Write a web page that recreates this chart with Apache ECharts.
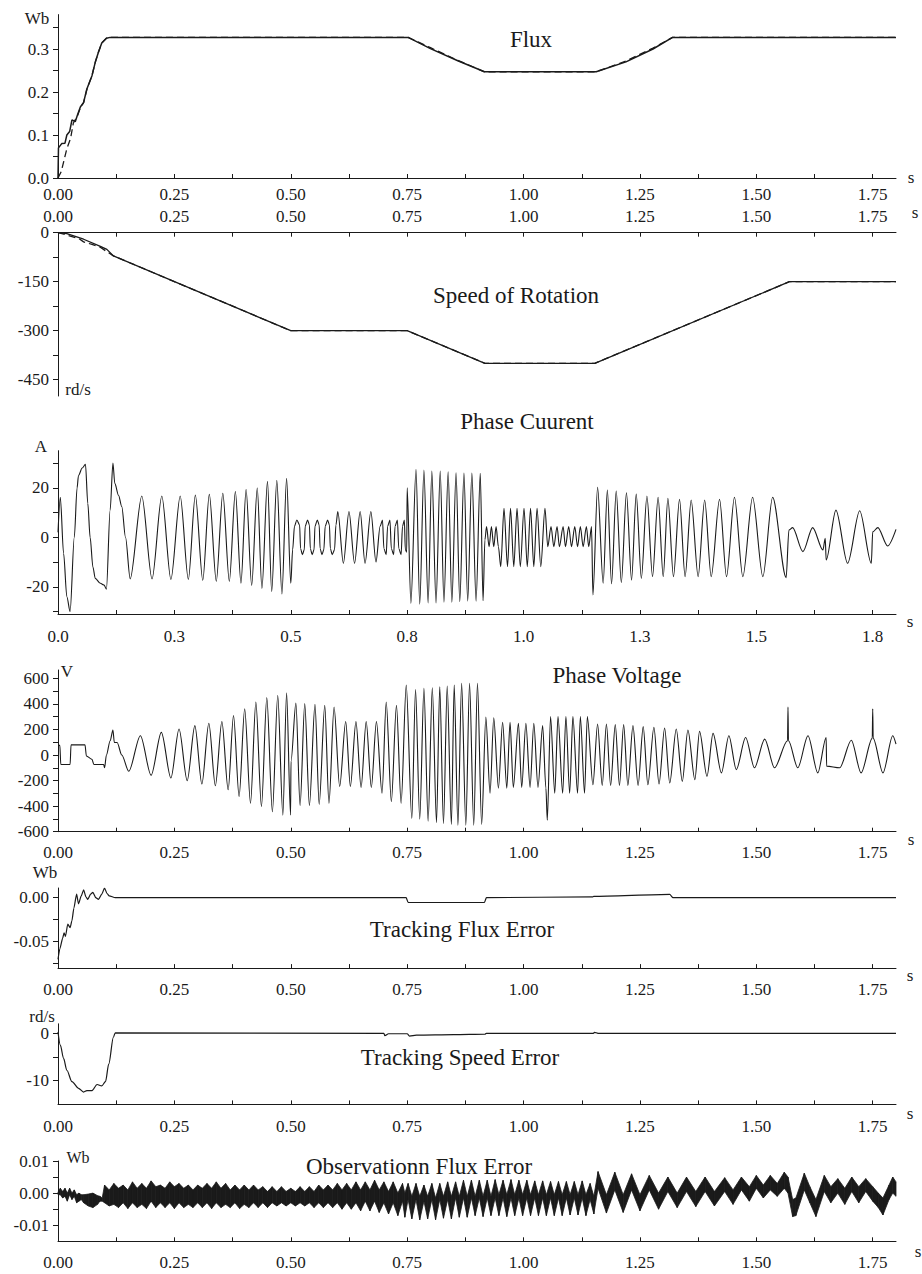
<!DOCTYPE html>
<html>
<head>
<meta charset="utf-8">
<title>Flux / speed / current / voltage / errors</title>
<script src="https://cdn.jsdelivr.net/npm/echarts@6.0.0/dist/echarts.min.js"></script>
<style>
  html, body { margin: 0; background: #fff; }
  #chart { width: 922px; height: 1274px; }
</style>
</head>
<body>
<div id="chart"></div>
<script>
// time axis (s), shared by every panel
const xTicks = [0, 0.125, 0.25, 0.375, 0.5, 0.625, 0.75, 0.875, 1, 1.125, 1.25, 1.375, 1.5, 1.625, 1.75];
const xLabels = [0, 0.25, 0.5, 0.75, 1, 1.25, 1.5, 1.75];

// flux (Wb): estimated (solid) and reference (dashed)
const fluxEst = [[0,0],[0.001,0.07],[0.008,0.08],[0.015,0.081],[0.019,0.1],[0.025,0.108],[0.03,0.135],[0.037,0.131],
  [0.042,0.147],[0.048,0.165],[0.055,0.176],[0.062,0.207],[0.073,0.238],[0.08,0.269],[0.087,0.293],[0.094,0.314],
  [0.104,0.325],[0.112,0.327],[0.752,0.327],[0.8,0.301],[0.86,0.272],[0.916,0.247],[1.156,0.247],[1.22,0.27],
  [1.278,0.3],[1.32,0.327],[1.8,0.327]];
const fluxRef = [[0,0],[0.007,0.015],[0.019,0.068],[0.027,0.092],[0.033,0.128],[0.042,0.145],[0.048,0.163],
  [0.055,0.175],[0.062,0.206],[0.073,0.238],[0.08,0.269],[0.087,0.293],[0.094,0.314],[0.104,0.325],[0.112,0.327],
  [0.752,0.327],[0.8,0.303],[0.86,0.273],[0.916,0.247],[1.156,0.247],[1.22,0.272],[1.278,0.302],[1.32,0.327],[1.8,0.327]];

// speed of rotation (rd/s)
const speedEst = [[0,0],[0.019,-3],[0.055,-20],[0.091,-42],[0.105,-51],[0.119,-71],[0.5,-300],[0.75,-300],
  [0.917,-400],[1.153,-400],[1.571,-150],[1.8,-150]];
const speedRef = [[0,0],[0.016,-6],[0.045,-18],[0.055,-28],[0.073,-36],[0.09,-44],[0.119,-71],[0.5,-300],[0.75,-300],
  [0.917,-400],[1.153,-400],[1.571,-150],[1.8,-150]];

// phase current (A), extremes
const currentPts = [
  [0,2],[0.005,16.2],[0.012,-6.5],[0.019,-24],[0.026,-30],[0.035,0],[0.041,20],[0.044,25],[0.052,28],[0.059,29.5],
  [0.064,13.7],[0.069,0],[0.075,-12],[0.08,-16.6],[0.091,-18.6],[0.099,-19.3],[0.104,-21],[0.112,11],[0.118,30],
  [0.122,21.8],[0.13,17],[0.137,12.4],[0.145,0],[0.155,-16.8],
  [0.18,16.7],[0.202,-16.8],[0.223,16.7],[0.2425,-17],[0.2625,16.7],[0.28,-17],[0.295,17.1],[0.311,-17.4],
  [0.325,17.4],[0.34,-17.8],[0.354,17.8],[0.368,-17.8],[0.381,18.5],[0.393,-18.6],[0.404,19.3],[0.416,-19.5],
  [0.428,19.9],[0.438,-20.7],[0.45,22.6],[0.459,-22],[0.47,23],[0.481,-22.9],[0.491,23.8],[0.5,-18.6],[0.504,-5],
  [0.508,4.5],[0.513,7],[0.519,5],[0.521,-4.5],[0.525,-7],[0.529,-5],[0.531,4.5],[0.536,7],[0.54,5],[0.542,-4.5],
  [0.546,-7],[0.55,-5],[0.552,4.5],[0.557,7],[0.561,5],[0.563,-4.5],[0.567,-7],[0.571,-5],[0.574,4.5],[0.579,7],
  [0.583,5],[0.585,-4.5],[0.589,-7],[0.594,-5],[0.597,5],
  [0.601,10.4],[0.613,-10.5],[0.625,10.4],[0.637,-10.5],[0.649,10.4],[0.6595,-10.5],[0.672,10.4],[0.683,-10],
  [0.692,4.5],[0.697,7],[0.7,-4.5],[0.705,-7],[0.708,4.5],[0.713,7],[0.716,-4.5],[0.721,-7],[0.724,4.5],[0.729,7],
  [0.732,-4.5],[0.737,-7],[0.74,4.5],[0.744,7],[0.746,-5],[0.749,-6],
  [0.75,20],[0.758,-26.7],[0.769,27.5],[0.777,-27],[0.786,27.2],[0.795,-26.5],[0.803,26.8],[0.812,-26.5],
  [0.821,26.8],[0.829,-26.2],[0.838,26.5],[0.846,-26.2],[0.855,26.1],[0.863,-26],[0.872,26],[0.88,-25.8],
  [0.889,26],[0.898,-25.8],[0.907,25.9],[0.913,-25.6],
  [0.917,-1],[0.9205,4.3],[0.926,-3.8],[0.931,4.3],[0.936,-3.8],[0.941,4.3],[0.946,-3.8],
  [0.951,-11.9],[0.958,11.7],[0.9655,-11.9],[0.972,11.7],[0.979,-11.9],[0.986,11.7],[0.993,-11.9],[1.001,11.7],
  [1.008,-11.9],[1.015,11.7],[1.022,-11.9],[1.029,11.7],[1.037,-11.9],[1.046,11.7],
  [1.052,-3.8],[1.059,4.3],[1.065,-3.8],[1.072,4.3],[1.077,-3.8],[1.085,4.3],[1.09,-3.8],[1.097,4.3],[1.103,-3.8],
  [1.11,4.3],[1.116,-3.8],[1.122,4.3],[1.128,-3.8],[1.135,4.3],[1.14,-3.8],[1.146,4.3],[1.149,-23.3],
  [1.159,20.2],[1.171,-18.6],[1.18,19.1],[1.189,-18.8],[1.199,18.7],[1.21,-18.3],[1.221,18],[1.232,-17.3],
  [1.242,17.5],[1.253,-16.6],[1.265,16.7],[1.277,-15.9],[1.289,16.2],[1.3,-15.9],[1.31,15.8],[1.322,-15.9],
  [1.335,15.4],[1.347,-15.9],[1.36,15.1],[1.375,-15.9],[1.389,15.1],[1.403,-15.9],[1.421,15.4],[1.436,-15.9],
  [1.453,16.2],[1.471,-15.9],[1.492,16.2],[1.514,-15.9],[1.535,16.2],[1.564,-16.3],
  [1.57,2.9],[1.578,3.9],[1.6,-5.8],[1.621,3.9],[1.643,-5.1],[1.648,-0.4],[1.65,-9.2],[1.671,11],[1.696,-10.5],
  [1.722,10.7],[1.747,-10.5],[1.75,2.2],[1.761,3.9],[1.782,-3.5],[1.8,3.2]
];

// phase voltage (V)
const voltagePts = [
  [0,75],[0.004,75],[0.006,-74],[0.026,-74],[0.028,79],[0.058,79],[0.061,-8],[0.073,-34],[0.077,-74],[0.098,-74],
  [0.1,-100],[0.104,0],[0.112,111],[0.118,196],[0.121,98],[0.127,98],[0.137,0],[0.152,-127],
  [0.177,151],[0.2,-159],[0.222,177],[0.2425,-180],[0.26,203],[0.2775,-201],[0.294,230],[0.309,-227],[0.324,248],
  [0.338,-241],[0.352,262],[0.3655,-272],[0.377,309],[0.389,-325],[0.401,362],[0.4135,-378],[0.425,415],
  [0.437,-404],[0.4485,449],[0.4605,-444],[0.472,468],[0.483,-470],[0.491,486],[0.4995,-470],[0.5005,-48],
  [0.511,407],[0.52,-396],[0.53,402],[0.54,-396],[0.552,396],[0.561,-386],[0.573,388],[0.582,-378],[0.593,375],
  [0.605,-246],[0.618,262],[0.628,-246],[0.64,262],[0.651,-254],[0.662,262],[0.673,-254],[0.684,262],[0.696,-299],
  [0.705,415],[0.716,-365],[0.727,388],[0.737,-378],[0.748,547],[0.76,-497],[0.768,513],[0.777,-502],[0.786,521],
  [0.795,-518],[0.804,526],[0.813,-529],[0.82,534],[0.828,-537],[0.836,539],[0.845,-544],[0.851,547],[0.859,-550],
  [0.867,560],[0.876,-550],[0.884,560],[0.893,-550],[0.901,560],[0.91,-544],
  [0.919,296],[0.928,-299],[0.936,291],[0.946,-259],[0.955,256],[0.964,-259],[0.971,256],[0.978,-254],[0.989,248],
  [0.996,-254],[1.005,248],[1.014,-254],[1.022,248],[1.031,-254],[1.041,230],[1.048,-259],[1.051,-510],[1.058,301],
  [1.067,-299],[1.074,301],[1.084,-299],[1.091,301],[1.099,-299],[1.106,301],[1.116,-299],[1.122,301],[1.131,-299],
  [1.137,301],[1.149,-233],
  [1.159,243],[1.169,-238],[1.178,243],[1.187,-238],[1.197,238],[1.206,-238],[1.215,238],[1.224,-238],[1.235,230],
  [1.246,-238],[1.257,222],[1.267,-233],[1.28,217],[1.291,-227],[1.303,211],[1.314,-219],[1.328,204],[1.341,-206],
  [1.353,196],[1.368,-193],[1.378,185],[1.394,-167],[1.407,169],[1.425,-140],[1.441,151],[1.457,-114],[1.477,137],
  [1.496,-100],[1.518,124],[1.539,-100],[1.567,111],[1.568,375],[1.569,111],[1.589,-100],[1.611,151],[1.632,-140],
  [1.65,137],[1.651,-87],[1.679,-100],[1.704,116],[1.725,-140],[1.749,130],[1.75,362],[1.751,130],[1.772,-140],
  [1.793,151],[1.8,85]
];

// tracking flux error (Wb)
const trackFluxErr = [[0,-0.07],[0.004,-0.058],[0.01,-0.046],[0.013,-0.04],[0.016,-0.044],[0.021,-0.03],[0.026,-0.034],
  [0.03,-0.026],[0.034,-0.012],[0.04,0.004],[0.044,-0.007],[0.05,0.002],[0.055,0.009],[0.06,0.001],[0.064,-0.002],
  [0.07,0.004],[0.075,0.006],[0.081,0],[0.087,-0.002],[0.094,0.004],[0.1,0.011],[0.105,0.005],[0.11,0.002],
  [0.123,0],[0.748,0],[0.752,-0.0055],[0.916,-0.0055],[0.92,0],[1.149,0.001],[1.151,0.0015],[1.314,0.0038],
  [1.321,0],[1.8,0]];

// tracking speed error (rd/s)
const trackSpeedErr = [[0,0.3],[0.005,-2.5],[0.012,-5.3],[0.019,-7.8],[0.03,-10.2],[0.044,-11.6],[0.055,-12.4],
  [0.062,-12.1],[0.073,-12.1],[0.084,-10.8],[0.094,-11.1],[0.102,-10.2],[0.109,-6.5],[0.119,-0.8],[0.123,0.1],
  [0.7,0],[0.702,-0.5],[0.71,-0.1],[0.75,-0.1],[0.755,-0.6],[0.77,-0.4],[0.85,-0.3],[0.917,-0.2],[0.92,0],
  [1.15,0],[1.152,0.2],[1.16,0],[1.8,0]];

// observation flux error: [t, upper, lower] envelope of the noise band, in mWb
const obsBand = [
  [0,0.3,-0.5],[0.005,1.5,-0.5],[0.01,0.5,-1.5],[0.015,1.5,-1],[0.02,0,-2.5],[0.025,1.5,-0.5],[0.03,0,-2],
  [0.035,1,-1],[0.04,-0.5,-3],[0.045,0,-2.5],[0.05,-0.5,-2],[0.055,-0.5,-3],[0.065,-0.3,-4],[0.075,0,-4.5],
  [0.085,-0.8,-3.5],[0.09,-1,-2.5],[0.095,-1.5,-2.5],[0.1,2.5,-3],
  [0.11,1,-4],[0.12,3,-3.5],[0.13,1.5,-4.5],[0.14,2.5,-3],[0.15,1,-4.8],[0.16,3.5,-3],[0.17,1.5,-4.5],[0.18,3,-3.5],
  [0.19,1.5,-4.8],[0.2,3.8,-2.5],[0.21,2,-4.5],[0.22,2.5,-3],[0.23,1.5,-4.5],[0.24,3.5,-3],[0.25,2,-4.8],
  [0.26,3,-3],[0.27,1.5,-4.5],[0.28,2.5,-3.5],[0.29,1,-4.5],[0.3,2.5,-3],[0.31,1.5,-4.5],[0.32,3,-3],[0.33,1.5,-4.8],
  [0.34,3.5,-3],[0.35,1.5,-4.5],[0.36,3,-3.5],[0.37,1,-4.5],[0.38,2.5,-3],[0.39,1,-4.8],[0.4,2.5,-3.5],[0.41,1,-4.5],
  [0.42,2.5,-3],[0.43,1,-4.5],[0.44,2,-3],[0.45,0.5,-4.5],[0.46,2,-3],[0.47,0.5,-4],[0.48,2,-3],[0.49,0.5,-4],
  [0.5,1.5,-3],[0.51,0.5,-4],[0.52,2,-3],[0.53,0.5,-4],[0.54,2,-3],[0.55,0.5,-4.5],[0.56,2.5,-3],[0.57,1,-4.5],
  [0.58,2.5,-3],[0.59,1,-4.5],[0.6,3,-3],[0.61,1,-5],[0.62,3,-3],[0.63,1,-5],[0.64,3.5,-3],[0.65,1,-5.5],
  [0.66,3.5,-2.5],[0.67,1,-5.5],[0.68,4,-2.5],[0.69,1,-6],[0.7,3.5,-3],[0.71,0.5,-6.5],[0.72,3.5,-3],[0.73,0,-7],
  [0.74,3,-2.5],[0.745,0,-7.5],
  [0.752,3,-2],[0.76,-1,-8],[0.769,3,-2],[0.777,-1,-8.3],[0.786,2.5,-2.5],[0.794,-1,-8],[0.803,3,-2],[0.811,-1.5,-8.3],
  [0.82,3,-2],[0.828,-1,-7.8],[0.837,3.5,-2],[0.845,-1,-8],[0.854,3.5,-1.5],[0.862,-1,-7.5],[0.871,4,-1.5],
  [0.879,-1,-7.5],[0.888,4,-1.5],[0.896,-1,-7],[0.905,4,-1.5],[0.913,-1,-7.3],[0.922,4,-1.5],[0.93,-1,-7],
  [0.939,4.2,-1.5],[0.947,-0.5,-7],[0.956,4,-1.5],[0.964,-0.5,-7.3],[0.973,4.2,-1.5],[0.981,-0.5,-7],[0.99,4,-1.5],
  [0.998,-0.5,-7],[1.007,4,-1.5],[1.015,-0.5,-7],[1.024,3.8,-1.5],[1.032,-0.5,-7],[1.041,3.8,-1.5],[1.049,-0.5,-7],
  [1.058,3.6,-1.5],[1.066,-0.5,-7],[1.075,3.6,-1.5],[1.083,-0.5,-7],[1.092,3.6,-1.5],[1.1,-0.5,-6.8],[1.109,3.6,-1.5],
  [1.117,-0.5,-6.8],[1.126,3.8,-1.5],[1.134,-0.5,-7],[1.143,3,-2],[1.151,-1,-6.5],
  [1.16,6.7,1.5],[1.178,-0.5,-6.2],[1.196,6.5,1],[1.214,-0.5,-6],[1.232,6,1],[1.25,-0.5,-5.5],[1.27,5.5,1],
  [1.29,0,-5],[1.31,5,0.5],[1.33,0,-4.5],[1.35,5,0.5],[1.37,0.5,-4.2],[1.39,5,0.5],[1.41,0.5,-4],[1.432,4.8,0.5],
  [1.45,1,-3.5],[1.468,5,1],[1.485,2,-2.5],[1.5,5.5,1.5],[1.515,2.5,-1.5],[1.53,5.5,1],[1.545,3,-1],[1.56,6.5,1.5],
  [1.568,5,0],[1.578,-2,-7.3],[1.585,-1.5,-7],[1.603,6.2,1],[1.615,2,-3],[1.628,-2,-7.3],[1.646,5.5,0.5],
  [1.66,2,-3],[1.675,4.5,0],[1.69,1.5,-3.5],[1.705,5,0.5],[1.72,2,-3],[1.735,4.5,0.5],[1.75,2,-2.5],[1.762,0,-4.5],
  [1.772,-1.5,-6.8],[1.785,2.5,-2],[1.793,5,0],[1.8,3.5,-1]
];

const FONT = '"Liberation Serif", "Times New Roman", serif';
const INK = '#1a1a1a';

// one entry per panel: grid box, y range, y ticks and labels
const panels = [
  { top: 14.6, height: 163.4, min: 0, max: 0.38, ticks: [0,0.05,0.1,0.15,0.2,0.25,0.3,0.35], labels: [0,0.1,0.2,0.3],
    yfmt: v => v.toFixed(1), xPos: 'bottom', xMargin: 8, xfmt: v => v.toFixed(2) },
  { top: 232.7, height: 163.3, min: -500, max: 0, ticks: [0,-75,-150,-225,-300,-375,-450], labels: [0,-150,-300,-450],
    yfmt: v => String(v), xPos: 'top', xMargin: 8, xfmt: v => v.toFixed(2) },
  { top: 450.7, height: 163.3, min: -31, max: 35, ticks: [-30,-20,-10,0,10,20,30], labels: [-20,0,20],
    yfmt: v => String(v), xPos: 'bottom', xMargin: 14, xfmt: v => v.toFixed(1) },
  { top: 670, height: 161.7, min: -600, max: 665, ticks: [-600,-500,-400,-300,-200,-100,0,100,200,300,400,500,600],
    labels: [-600,-400,-200,0,200,400,600], yfmt: v => String(v), xPos: 'bottom', xMargin: 12, xfmt: v => v.toFixed(2) },
  { top: 888, height: 80.1, min: -0.08, max: 0.011, ticks: [0,-0.025,-0.05,-0.075], labels: [0,-0.05],
    yfmt: v => v.toFixed(2), xPos: 'bottom', xMargin: 13, xfmt: v => v.toFixed(2) },
  { top: 1023.8, height: 80.6, min: -15, max: 2, ticks: [0,-5,-10], labels: [0,-10],
    yfmt: v => String(v), xPos: 'bottom', xMargin: 14, xfmt: v => v.toFixed(2) },
  { top: 1161, height: 80.3, min: -15, max: 10, ticks: [10,5,0,-5,-10], labels: [10,0,-10],
    yfmt: v => (v / 1000).toFixed(2), xPos: 'bottom', xMargin: 13, xfmt: v => v.toFixed(2) }
];

const labelStyle = { fontFamily: FONT, fontSize: 17, color: INK };

const grid = panels.map(p => ({ left: 58, width: 838, top: p.top, height: p.height, outerBoundsMode: 'none' }));

const xAxis = panels.map((p, i) => ({
  gridIndex: i, type: 'value', min: 0, max: 1.8, position: p.xPos,
  axisLine: { show: true, onZero: false, lineStyle: { color: INK, width: 1 } },
  axisTick: { show: true, inside: true, length: 4, customValues: xTicks, lineStyle: { color: INK } },
  axisLabel: Object.assign({ customValues: xLabels, margin: p.xMargin, formatter: p.xfmt }, labelStyle),
  splitLine: { show: false }
}));

const yAxis = panels.map((p, i) => ({
  gridIndex: i, type: 'value', min: p.min, max: p.max,
  axisLine: { show: true, onZero: false, lineStyle: { color: INK, width: 1 } },
  axisTick: { show: true, inside: false, length: 5, customValues: p.ticks, lineStyle: { color: INK } },
  axisLabel: Object.assign({ customValues: p.labels, margin: 9, formatter: p.yfmt }, labelStyle),
  splitLine: { show: false }
}));

function line(idx, data, opts) {
  return Object.assign({
    type: 'line', xAxisIndex: idx, yAxisIndex: idx, data: data,
    showSymbol: false, symbol: 'none', animation: false, silent: true,
    lineStyle: { color: INK, width: 1.2 }
  }, opts || {});
}

const series = [
  line(0, fluxRef, { lineStyle: { color: INK, width: 1.3, type: [7, 4] } }),
  line(0, fluxEst, { lineStyle: { color: INK, width: 1.5 } }),
  line(1, speedRef, { lineStyle: { color: INK, width: 1.3, type: [7, 4] } }),
  line(1, speedEst, { lineStyle: { color: INK, width: 1.3 } }),
  line(2, currentPts, { smooth: 0.3, smoothMonotone: 'x', lineStyle: { color: INK, width: 1.1 } }),
  line(3, voltagePts, { smooth: 0.3, smoothMonotone: 'x', lineStyle: { color: INK, width: 1.1 } }),
  line(4, trackFluxErr, { smooth: 0.2, smoothMonotone: 'x' }),
  line(5, trackSpeedErr, { smooth: 0.3, smoothMonotone: 'x' }),
  // noise band: filled strip between the upper and lower envelope, one quad per interval
  {
    type: 'custom', coordinateSystem: 'cartesian2d', xAxisIndex: 6, yAxisIndex: 6,
    data: obsBand, encode: { x: 0, y: [1, 2] }, animation: false, silent: true,
    renderItem: function (params, api) {
      const i = params.dataIndex;
      if (i >= obsBand.length - 1) return null;
      const a = obsBand[i], b = obsBand[i + 1];
      const pts = [api.coord([a[0], a[1]]), api.coord([b[0], b[1]]), api.coord([b[0], b[2]]), api.coord([a[0], a[2]])];
      return { type: 'polygon', shape: { points: pts }, style: { fill: INK, stroke: INK, lineWidth: 0.8 } };
    }
  }
];

function txt(text, x, y, size, align) {
  return { type: 'text', x: x, y: y, silent: true,
    style: { text: text, font: size + 'px ' + FONT, fill: INK, align: align || 'center', verticalAlign: 'middle' } };
}

const graphic = [
  txt('Flux', 531, 39, 23),
  txt('Speed of Rotation', 516, 295, 23),
  txt('Phase Cuurent', 527, 421, 23),
  txt('Phase Voltage', 617, 675, 23),
  txt('Tracking Flux Error', 462, 929, 23),
  txt('Tracking Speed Error', 460, 1057, 23),
  txt('Observationn Flux Error', 419, 1166, 23),
  txt('Wb', 37, 18, 17), txt('rd/s', 78, 389, 17), txt('A', 41, 446, 17), txt('V', 67, 671, 17),
  txt('Wb', 45, 872, 17), txt('rd/s', 42, 1016, 17), txt('Wb', 78, 1157, 16),
  txt('s', 911, 177, 17), txt('s', 915, 212, 17), txt('s', 910, 621, 17), txt('s', 911, 839, 17),
  txt('s', 910, 975, 17), txt('s', 910, 1113, 17), txt('s', 918, 1251, 17)
];

const chart = echarts.init(document.getElementById('chart'), null, { renderer: 'svg' });
chart.setOption({
  backgroundColor: '#fff',
  animation: false,
  grid: grid,
  xAxis: xAxis,
  yAxis: yAxis,
  series: series,
  graphic: graphic
});
</script>
</body>
</html>
